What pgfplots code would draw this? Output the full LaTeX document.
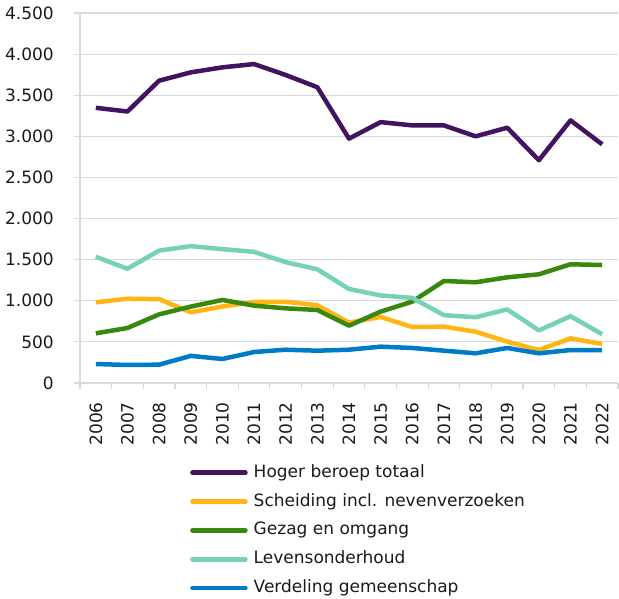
\documentclass[border=0pt]{standalone}
\usepackage{pgfplots}
\pgfplotsset{compat=1.18}
\usepackage{fontspec}
\setmainfont{DejaVu Sans}
\definecolor{cPurple}{HTML}{42145F}
\definecolor{cOrange}{HTML}{FFB612}
\definecolor{cGreen}{HTML}{39870C}
\definecolor{cMint}{HTML}{76D2B6}
\definecolor{cBlue}{HTML}{007BC7}
\definecolor{cGrid}{HTML}{D9D9D9}
\definecolor{cText}{HTML}{1A1A1A}
\begin{document}
\begin{tikzpicture}
\begin{axis}[
  at={(0,0)}, anchor=south west,
  scale only axis,
  width=538pt, height=370pt,
  xmin=-0.5, xmax=16.5,
  ymin=0, ymax=4500,
  xtick={0,...,16},
  xticklabels={2006,2007,2008,2009,2010,2011,2012,2013,2014,2015,2016,2017,2018,2019,2020,2021,2022},
  minor xtick={-0.5,0.5,...,16.5},
  ytick={0,500,...,4500},
  axis x line*=bottom, axis y line*=left,
  axis line style={draw=cGrid, line width=1.2pt},
  tick align=outside,
  major x tick style={draw=none},
  minor x tick style={draw=cGrid, line width=1.2pt},
  major y tick style={draw=cGrid, line width=1.2pt},
  major tick length=6pt, minor tick length=6pt,
  ymajorgrids, grid style={draw=cGrid, line width=1.2pt},
  /pgf/number format/.cd, 1000 sep={.}, assume math mode=true, /pgfplots/.cd,
  tick label style={font=\fontsize{17}{19}\selectfont, text=cText, inner sep=0pt},
  xticklabel style={rotate=90, anchor=east},
  xticklabel shift=13pt,
  yticklabel style={anchor=east},
  yticklabel shift=20pt,
  legend style={at={(0.2045,-0.2203)}, anchor=north west, draw=none, fill=none,
    font=\fontsize{17}{19}\selectfont, text=cText, inner sep=0pt, row sep=12.85pt,
    nodes={inner sep=0pt, text height=12.5pt, text depth=3.5pt}},
  legend cell align=left,
  legend image code/.code={\draw[#1, line cap=round] (0pt,0pt) -- (53pt,0pt);},
  /tikz/every odd column/.append style={column sep=6pt},
  every axis plot/.append style={line width=4.5pt, line join=round, no markers},
]
\addplot[cPurple] coordinates {(0,3347)(1,3302)(2,3677)(3,3778)(4,3839)(5,3879)(6,3746)(7,3597)(8,2972)(9,3173)(10,3133)(11,3133)(12,3000)(13,3105)(14,2710)(15,3194)(16,2903)};
\addlegendentry{Hoger beroep totaal}
\addplot[cOrange] coordinates {(0,981)(1,1025)(2,1020)(3,860)(4,930)(5,985)(6,988)(7,945)(8,734)(9,803)(10,681)(11,685)(12,624)(13,503)(14,401)(15,543)(16,474)};
\addlegendentry{Scheiding incl. nevenverzoeken}
\addplot[cGreen] coordinates {(0,604)(1,669)(2,835)(3,929)(4,1010)(5,941)(6,908)(7,888)(8,697)(9,868)(10,990)(11,1241)(12,1225)(13,1285)(14,1322)(15,1444)(16,1435)};
\addlegendentry{Gezag en omgang}
\addplot[cMint] coordinates {(0,1535)(1,1390)(2,1610)(3,1665)(4,1628)(5,1595)(6,1470)(7,1383)(8,1143)(9,1065)(10,1035)(11,825)(12,800)(13,895)(14,640)(15,812)(16,594)};
\addlegendentry{Levensonderhoud}
\addplot[cBlue] coordinates {(0,231)(1,219)(2,223)(3,330)(4,292)(5,377)(6,405)(7,393)(8,405)(9,442)(10,426)(11,393)(12,361)(13,426)(14,361)(15,401)(16,401)};
\addlegendentry{Verdeling gemeenschap}
\end{axis}
\pgfresetboundingbox
\path (-80pt,-215pt) rectangle (539pt,383pt);
\end{tikzpicture}
\end{document}
